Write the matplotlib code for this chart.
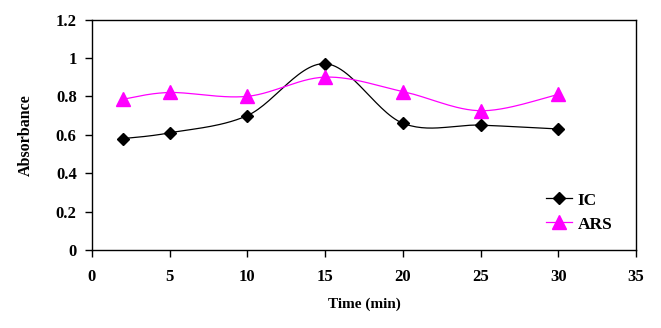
import matplotlib
matplotlib.use("Agg")
import matplotlib.pyplot as plt
import numpy as np

time_min = [2, 5, 10, 15, 20, 25, 30]
ic = [0.58, 0.61, 0.70, 0.97, 0.66, 0.65, 0.63]
ars = [0.785, 0.82, 0.80, 0.90, 0.825, 0.725, 0.81]


def smooth(x, y, n=30):
    # Bezier curve through each point, control points from neighbours (spreadsheet-style smoothing)
    x = np.asarray(x, float)
    y = np.asarray(y, float)
    px = np.concatenate([[x[0]], x, [x[-1]]])
    py = np.concatenate([[y[0]], y, [y[-1]]])
    xs, ys = [], []
    t = np.linspace(0, 1, n)
    for i in range(len(x) - 1):
        p0 = np.array([px[i + 1], py[i + 1]])
        p3 = np.array([px[i + 2], py[i + 2]])
        c1 = p0 + (np.array([px[i + 2], py[i + 2]]) - np.array([px[i], py[i]])) / 6
        c2 = p3 - (np.array([px[i + 3], py[i + 3]]) - np.array([px[i + 1], py[i + 1]])) / 6
        b = ((1 - t) ** 3)[:, None] * p0 + (3 * (1 - t) ** 2 * t)[:, None] * c1 \
            + (3 * (1 - t) * t ** 2)[:, None] * c2 + (t ** 3)[:, None] * p3
        xs.extend(b[:, 0])
        ys.extend(b[:, 1])
    return xs, ys


plt.rcParams['font.family'] = 'Liberation Serif'
plt.rcParams['font.weight'] = 'bold'

fig = plt.figure(figsize=(6.61, 3.28), dpi=100)
ax = fig.add_axes([92 / 661, 1 - 250 / 328, 544 / 661, 230.5 / 328])

sx, sy = smooth(time_min, ic)
ax.plot(sx, sy, color='black', lw=0.9)
ax.plot(time_min, ic, ls='none', marker='D', ms=6.5, color='black')
sx, sy = smooth(time_min, ars)
ax.plot(sx, sy, color='#FF00FF', lw=0.9)
ax.plot(time_min, ars, ls='none', marker='^', ms=9.5, color='#FF00FF')

# legend handles combine line and marker
ax.plot([], [], color='black', lw=0.9, marker='D', ms=6.5, label='IC')
ax.plot([], [], color='#FF00FF', lw=0.9, marker='^', ms=9.5, label='ARS')
ax.legend(loc='lower right', bbox_to_anchor=(0.985, 0.008), frameon=False,
          prop={'family': 'Liberation Serif', 'weight': 'bold', 'size': 12.5},
          handlelength=1.5, handletextpad=0.3, labelspacing=0.45)

ax.set_xlim(0, 35)
ax.set_ylim(0, 1.2)
ax.set_xticks(range(0, 36, 5))
ax.set_yticks([0, 0.2, 0.4, 0.6, 0.8, 1.0, 1.2])
ax.set_yticklabels(['0', '0.2', '0.4', '0.6', '0.8', '1', '1.2'])
ax.tick_params(direction='out', length=5, width=1, labelsize=12)
ax.tick_params(axis='y', pad=6)
ax.tick_params(axis='x', pad=9)
for s in ax.spines.values():
    s.set_linewidth(1)

ax.set_xlabel('Time (min)', fontsize=11, fontweight='bold', labelpad=9)
ax.set_ylabel('Absorbance', fontsize=11.5, fontweight='bold', labelpad=16)

fig.savefig('out.png', dpi=100)
